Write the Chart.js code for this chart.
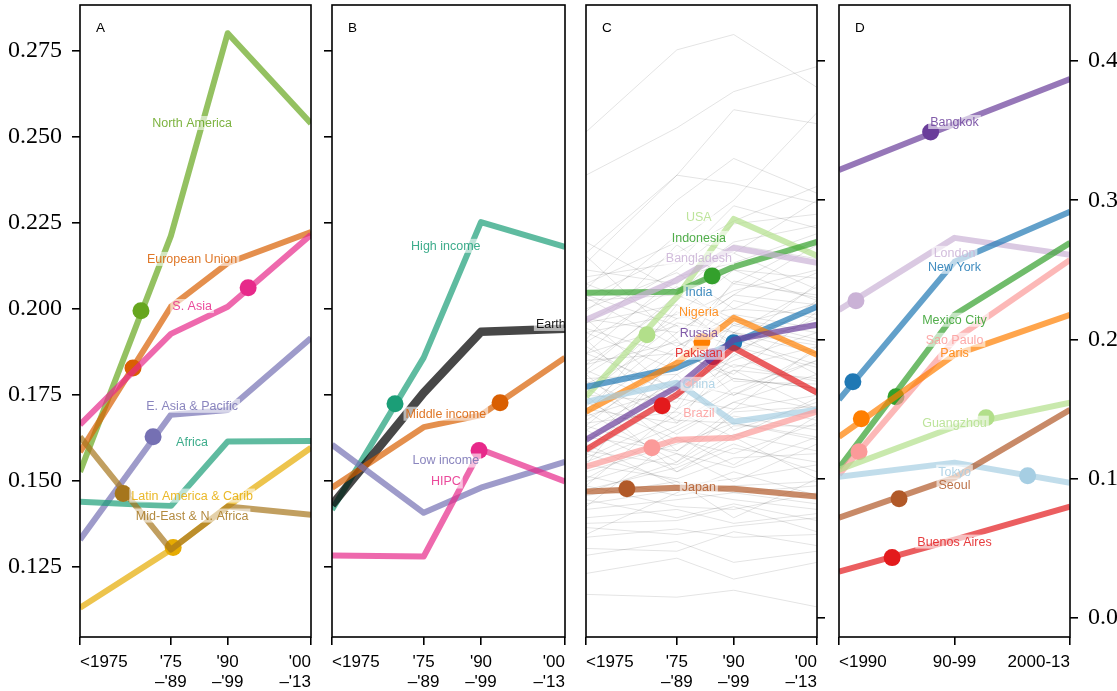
<!DOCTYPE html>
<html>
<head>
<meta charset="utf-8">
<script src="https://cdn.jsdelivr.net/npm/chart.js@4.4.1/dist/chart.umd.min.js"></script>
<style>
  html, body { margin: 0; padding: 0; background: #fff; }
  #wrap { position: relative; width: 1117px; height: 691px; overflow: hidden; }
  canvas { position: absolute; left: 0; top: 0; }
</style>
</head>
<body>
<div id="wrap">
  <canvas id="panelA" width="1117" height="691"></canvas>
  <canvas id="panelB" width="1117" height="691"></canvas>
  <canvas id="panelC" width="1117" height="691"></canvas>
  <canvas id="panelD" width="1117" height="691"></canvas>
</div>
<script>
// ---------- axes ----------
const periodLabels = ['<1975', ["'75", "\u2013'89"], ["'90", "\u2013'99"], ["'00", "\u2013'13"]];
const periodYears = [1951, 1975, 1990, 2012];
const cityPeriodLabels = ['<1990', '90-99', '2000-13'];
const cityPeriodYears = [1980, 1995, 2010];
const shareTicks = [0.125, 0.150, 0.175, 0.200, 0.225, 0.250, 0.275];
const cityTicks = [0.0, 0.1, 0.2, 0.3, 0.4];

// ---------- A: world regions ----------
const regionNames = ['North America', 'European Union', 'S. Asia', 'E. Asia & Pacific', 'Africa',
  'Latin America & Carib', 'Mid-East & N. Africa'];
const regionValues = [
  [0.1525, 0.2211, 0.2800, 0.2538],
  [0.1583, 0.2005, 0.2132, 0.2222],
  [0.1662, 0.1926, 0.2005, 0.2214],
  [0.1328, 0.1691, 0.1705, 0.1914],
  [0.1438, 0.1426, 0.1613, 0.1615],
  [0.1130, 0.1299, 0.1425, 0.1595],
  [0.1627, 0.1299, 0.1424, 0.1400]
];
const regionMarkYears = [1967.1, 1965.0, 1995.4, 1970.3, null, 1975.6, 1962.4];
const regionMarkValues = [0.1993, 0.1827, 0.2060, 0.1627, null, 0.1305, 0.1462];

// ---------- B: income groups ----------
const incomeNames = ['High income', 'Earth', 'Middle income', 'Low income', 'HIPC'];
const incomeValues = [
  [0.1415, 0.1857, 0.2251, 0.2179],
  [0.1429, 0.1755, 0.1932, 0.1941],
  [0.1479, 0.1655, 0.1690, 0.1857],
  [0.1604, 0.1406, 0.1479, 0.1554],
  [0.1282, 0.1279, 0.1590, 0.1497]
];
const incomeMarkYears = [1967.5, null, 1995.0, null, 1989.5];
const incomeMarkValues = [0.1723, null, 0.1726, null, 0.1587];

// ---------- C: countries ----------
const countryNames = ['USA', 'Indonesia', 'Bangladesh', 'India', 'Nigeria', 'Russia', 'Pakistan',
  'China', 'Brazil', 'Japan'];
const countryValues = [
  [0.1589, 0.2307, 0.2866, 0.2601],
  [0.2335, 0.2343, 0.2522, 0.2701],
  [0.2142, 0.2428, 0.2658, 0.2551],
  [0.1661, 0.1797, 0.1977, 0.2235],
  [0.1482, 0.1833, 0.2156, 0.1891],
  [0.1281, 0.1661, 0.1998, 0.2106],
  [0.1209, 0.1604, 0.1941, 0.1618],
  [0.1553, 0.1690, 0.1410, 0.1496],
  [0.1087, 0.1281, 0.1295, 0.1482],
  [0.0908, 0.0936, 0.0929, 0.0872]
];
const countryMarkYears = [1967.1, 1984.3, null, 1990.0, 1981.6, 1984.5, 1971.1, null, 1968.4, 1961.8];
const countryMarkValues = [0.2034, 0.2457, null, 0.1977, 0.1984, 0.1876, 0.1525, null, 0.1223, 0.0929];

// every other country, drawn faintly behind
const otherCountries = [
  [0.349, 0.408, 0.419, 0.381], [0.318, 0.352, 0.378, 0.396], [0.255, 0.318, 0.365, 0.355],
  [0.262, 0.318, 0.312, 0.298], [0.236, 0.300, 0.330, 0.305], [0.240, 0.270, 0.300, 0.363],
  [0.230, 0.262, 0.285, 0.310], [0.245, 0.255, 0.296, 0.280], [0.220, 0.275, 0.262, 0.300],
  [0.212, 0.250, 0.283, 0.290], [0.250, 0.240, 0.270, 0.282], [0.200, 0.268, 0.240, 0.272],
  [0.228, 0.232, 0.268, 0.258], [0.190, 0.245, 0.255, 0.276], [0.205, 0.218, 0.250, 0.244],
  [0.240, 0.215, 0.235, 0.250], [0.182, 0.228, 0.262, 0.236], [0.215, 0.205, 0.232, 0.268],
  [0.175, 0.215, 0.222, 0.248], [0.198, 0.238, 0.210, 0.226], [0.168, 0.200, 0.240, 0.232],
  [0.230, 0.195, 0.218, 0.208], [0.160, 0.212, 0.205, 0.238], [0.185, 0.190, 0.228, 0.215],
  [0.205, 0.178, 0.198, 0.222], [0.150, 0.195, 0.215, 0.200], [0.172, 0.175, 0.200, 0.182],
  [0.190, 0.165, 0.185, 0.205], [0.142, 0.182, 0.192, 0.215], [0.160, 0.155, 0.205, 0.175],
  [0.135, 0.170, 0.160, 0.192], [0.178, 0.150, 0.172, 0.165], [0.128, 0.160, 0.182, 0.170],
  [0.150, 0.140, 0.165, 0.185], [0.118, 0.158, 0.150, 0.160], [0.165, 0.132, 0.155, 0.142],
  [0.140, 0.148, 0.130, 0.158], [0.112, 0.138, 0.162, 0.150], [0.130, 0.120, 0.145, 0.135],
  [0.155, 0.128, 0.118, 0.140], [0.105, 0.125, 0.140, 0.128], [0.120, 0.110, 0.132, 0.120],
  [0.098, 0.118, 0.108, 0.130], [0.135, 0.105, 0.122, 0.112], [0.110, 0.100, 0.115, 0.118],
  [0.092, 0.108, 0.125, 0.105], [0.125, 0.095, 0.100, 0.110], [0.088, 0.098, 0.072, 0.100],
  [0.102, 0.088, 0.095, 0.098], [0.082, 0.092, 0.085, 0.078], [0.095, 0.080, 0.078, 0.090],
  [0.078, 0.085, 0.090, 0.082], [0.085, 0.072, 0.082, 0.070], [0.072, 0.078, 0.068, 0.075],
  [0.068, 0.070, 0.080, 0.062], [0.065, 0.060, 0.066, 0.072], [0.058, 0.064, 0.058, 0.060],
  [0.050, 0.048, 0.062, 0.052], [0.032, 0.043, 0.028, 0.040], [0.017, 0.015, 0.020, 0.008],
  [0.045, 0.055, 0.040, 0.048], [0.110, 0.190, 0.175, 0.220], [0.200, 0.140, 0.190, 0.160],
  [0.145, 0.225, 0.195, 0.180], [0.260, 0.200, 0.160, 0.185], [0.095, 0.150, 0.205, 0.190],
  [0.175, 0.120, 0.150, 0.195], [0.120, 0.175, 0.135, 0.155], [0.215, 0.160, 0.178, 0.150],
  [0.080, 0.130, 0.110, 0.145], [0.160, 0.105, 0.130, 0.100], [0.270, 0.235, 0.250, 0.228],
  [0.190, 0.210, 0.170, 0.168], [0.138, 0.118, 0.098, 0.125], [0.060, 0.090, 0.105, 0.088],
  [0.178, 0.232, 0.215, 0.205], [0.152, 0.205, 0.232, 0.225], [0.208, 0.188, 0.242, 0.230],
  [0.125, 0.185, 0.210, 0.198], [0.232, 0.210, 0.195, 0.240], [0.162, 0.220, 0.198, 0.212],
  [0.195, 0.158, 0.212, 0.190], [0.145, 0.165, 0.188, 0.228], [0.222, 0.248, 0.222, 0.218],
  [0.115, 0.145, 0.178, 0.172], [0.182, 0.198, 0.180, 0.195], [0.138, 0.192, 0.172, 0.165],
  [0.100, 0.135, 0.155, 0.175], [0.170, 0.142, 0.140, 0.130], [0.212, 0.225, 0.205, 0.196],
  [0.148, 0.112, 0.148, 0.152], [0.090, 0.112, 0.138, 0.138], [0.118, 0.098, 0.090, 0.095]
];

// ---------- D: cities ----------
const cityNames = ['Bangkok', 'London', 'New York', 'Mexico City', 'Sao Paulo', 'Paris', 'Guangzhou',
  'Tokyo', 'Seoul', 'Buenos Aires'];
const cityValues = [
  [0.3218, 0.3548, 0.3871],
  [0.2213, 0.2730, 0.2608],
  [0.1568, 0.2558, 0.2917],
  [0.1077, 0.2178, 0.2694],
  [0.1030, 0.1998, 0.2572],
  [0.1302, 0.1890, 0.2178],
  [0.1065, 0.1374, 0.1546],
  [0.1015, 0.1116, 0.0972],
  [0.0721, 0.1008, 0.1496],
  [0.0334, 0.0563, 0.0800]
];
const cityMarkYears = [1991.9, 1982.2, 1981.8, 1987.4, 1982.6, 1982.9, 1999.1, 2004.5, 1987.8, 1986.9];
const cityMarkValues = [0.3490, 0.2278, 0.1697, 0.1589, 0.1195, 0.1431, 0.1439, 0.1022, 0.0857, 0.0434];

// ---------- styling ----------
const dark2 = { teal: [27,158,119], orange: [217,95,2], purple: [117,112,179], pink: [231,41,138],
  green: [102,166,30], yellow: [230,171,2], brown: [166,118,29], black: [0,0,0] };
const paired = { lblue: [166,206,227], blue: [31,120,180], lgreen: [178,223,138], green: [51,160,44],
  lpink: [251,154,153], red: [227,26,28], lorange: [253,191,111], orange: [255,127,0],
  lpurple: [202,178,214], purple: [106,61,154], brown: [177,89,40] };
const rgba = (c, a) => `rgba(${c[0]},${c[1]},${c[2]},${a})`;

const regionColors = [dark2.green, dark2.orange, dark2.pink, dark2.purple, dark2.teal, dark2.yellow, dark2.brown];
const incomeColors = [dark2.teal, dark2.black, dark2.orange, dark2.purple, dark2.pink];
const countryColors = [paired.lgreen, paired.green, paired.lpurple, paired.blue, paired.orange, paired.purple,
  paired.red, paired.lblue, paired.lpink, paired.brown];
const cityColors = [paired.purple, paired.lpurple, paired.blue, paired.green, paired.lpink, paired.orange,
  paired.lgreen, paired.lblue, paired.brown, paired.red];

// where each name sits (data coordinates of its centre)
const regionLabelAt = [[1980.6, 0.2539], [1980.6, 0.2144], [1980.6, 0.2007], [1980.6, 0.1717],
  [1980.6, 0.1612], [1980.6, 0.1456], [1980.6, 0.1398]];
const incomeLabelAt = [[1980.8, 0.2182], [2012.2, 0.1955, 'right'], [1980.8, 0.1694], [1980.8, 0.1558], [1980.8, 0.1497]];
const countryLabelAt = [[1980.8, 0.2881], [1980.8, 0.2730], [1980.8, 0.2586], [1980.8, 0.2343], [1980.8, 0.2199],
  [1980.8, 0.2048], [1980.8, 0.1905], [1980.8, 0.1682], [1980.8, 0.1474], [1980.8, 0.0944]];
const cityLabelAt = [[1995, 0.3562], [1995, 0.2622], [1995, 0.2522], [1995, 0.2142], [1995, 0.1998],
  [1995, 0.1905], [1995, 0.1403], [1995, 0.1051], [1995, 0.0958], [1995, 0.0549]];

const W = 1117, H = 691;
const SPINE = '#000';
const TICK_FONT = { family: 'Liberation Sans', size: 17 };
const NUM_FONT = { family: 'Liberation Serif', size: 24 };
const LABEL_FONT = '12.5px "Liberation Sans"';

function zeroPad(s) { s.paddingLeft = 0; s.paddingRight = 0; s.paddingTop = 0; s.paddingBottom = 0; }

function buildSeries(names, values, years, markYears, markValues, colors, width, special) {
  const ds = [];
  const n = names.length;
  names.forEach((name, i) => {
    const w = (special && special[i]) || width;
    const lineAlpha = colors[i] === dark2.black ? 0.72 : 0.7;
    ds.push({
      label: name,
      data: values[i].map((v, k) => ({ x: years[k], y: v })),
      borderColor: rgba(colors[i], lineAlpha),
      borderWidth: w,
      borderJoinStyle: 'round',
      borderCapStyle: 'butt',
      pointRadius: 0,
      tension: 0,
      fill: false,
      clip: 0,
      order: 2 * (n - i) + 1
    });
    if (markYears[i] !== null) {
      ds.push({
        label: name + ' mark',
        data: [{ x: markYears[i], y: markValues[i] }],
        showLine: false,
        pointRadius: 8.5,
        pointHoverRadius: 8.5,
        pointBackgroundColor: rgba(colors[i], 1),
        pointBorderWidth: 0,
        clip: 0,
        order: 2 * (n - i)
      });
    }
  });
  return ds;
}

function labelPlugin(names, colors, at, letter) {
  return {
    id: 'inlineLabels',
    afterDatasetsDraw(chart) {
      const { ctx, scales: { x, y } } = chart;
      ctx.save();
      ctx.font = LABEL_FONT;
      ctx.textBaseline = 'middle';
      ctx.textAlign = 'left';
      names.forEach((name, i) => {
        const [lx, ly, align] = at[i];
        const px = x.getPixelForValue(lx), py = y.getPixelForValue(ly);
        const w = ctx.measureText(name).width;
        const left = align === 'right' ? px - w : px - w / 2;
        ctx.fillStyle = 'rgba(255,255,255,0.6)';
        ctx.fillRect(left - 2, py - 7, w + 4, 14);
        ctx.fillStyle = colors[i] === dark2.black ? 'rgba(0,0,0,0.9)' : rgba(colors[i], 0.85);
        ctx.fillText(name, left, py + 0.5);
      });
      ctx.restore();
    },
    afterDraw(chart) {
      const { ctx, chartArea: a } = chart;
      ctx.save();
      ctx.strokeStyle = SPINE;
      ctx.lineWidth = 1.6;
      ctx.strokeRect(a.left, a.top, a.right - a.left, a.bottom - a.top);
      ctx.fillStyle = '#000';
      ctx.font = '13.5px "Liberation Sans"';
      ctx.textBaseline = 'alphabetic';
      ctx.fillText(letter, a.left + 16, a.top + 27);
      ctx.restore();
    }
  };
}

function makePanel(id, cfg) {
  const grid = { display: true, drawOnChartArea: false, drawTicks: true, tickLength: 8, color: SPINE, lineWidth: 1.6 };
  const yOpts = {
    type: 'linear',
    min: cfg.yMin, max: cfg.yMax,
    position: cfg.yPos,
    grid,
    border: { display: false },
    ticks: {
      display: cfg.yLabels,
      color: '#000',
      font: NUM_FONT,
      padding: 10,
      callback: v => v.toFixed(cfg.yDigits)
    },
    afterBuildTicks: s => { s.ticks = cfg.yTicks.map(v => ({ value: v })); },
    afterFit: s => { s.width = cfg.yWidth; zeroPad(s); }
  };
  const xOpts = {
    type: 'linear',
    min: cfg.xYears[0], max: cfg.xYears[cfg.xYears.length - 1],
    grid,
    border: { display: false },
    ticks: {
      color: '#000',
      font: TICK_FONT,
      padding: 7,
      align: 'inner',
      autoSkip: false,
      maxRotation: 0,
      callback: (v, i) => cfg.xLabels[i]
    },
    afterBuildTicks: s => { s.ticks = cfg.xYears.map(v => ({ value: v })); },
    afterFit: s => { s.height = 54; zeroPad(s); }
  };
  return new Chart(document.getElementById(id), {
    type: 'line',
    data: { datasets: cfg.datasets },
    options: {
      responsive: false,
      animation: false,
      devicePixelRatio: 1,
      events: [],
      layout: { padding: cfg.padding, autoPadding: false },
      plugins: { legend: { display: false }, tooltip: { enabled: false } },
      scales: { x: xOpts, y: yOpts }
    },
    plugins: [cfg.plugin]
  });
}

const shareRange = { yMin: 0.1045, yMax: 0.2882 };
const cityRange = { yMin: -0.0136, yMax: 0.4402 };
const TOP = 5;

// A
makePanel('panelA', {
  ...shareRange, yTicks: shareTicks, yDigits: 3, yPos: 'left', yLabels: true, yWidth: 80,
  xYears: periodYears, xLabels: periodLabels,
  padding: { left: 0, right: W - 311, top: TOP, bottom: 0 },
  datasets: buildSeries(regionNames, regionValues, periodYears, regionMarkYears, regionMarkValues, regionColors, 6),
  plugin: labelPlugin(regionNames, regionColors, regionLabelAt, 'A')
});

// B
makePanel('panelB', {
  ...shareRange, yTicks: shareTicks, yDigits: 3, yPos: 'left', yLabels: false, yWidth: 8,
  xYears: periodYears, xLabels: periodLabels,
  padding: { left: 324, right: W - 565, top: TOP, bottom: 0 },
  datasets: buildSeries(incomeNames, incomeValues, periodYears, incomeMarkYears, incomeMarkValues, incomeColors, 6, [null, 8.5]),
  plugin: labelPlugin(incomeNames, incomeColors, incomeLabelAt, 'B')
});

// C
const backdrop = otherCountries.map((vals, i) => ({
  label: 'country ' + i,
  data: vals.map((v, k) => ({ x: periodYears[k], y: v })),
  borderColor: 'rgba(0,0,0,0.11)',
  borderWidth: 1,
  pointRadius: 0,
  tension: 0,
  fill: false,
  clip: 0,
  order: 100
}));
makePanel('panelC', {
  ...cityRange, yTicks: cityTicks, yDigits: 1, yPos: 'right', yLabels: false, yWidth: 8,
  xYears: periodYears, xLabels: periodLabels,
  padding: { left: 586, right: W - 817 - 8, top: TOP, bottom: 0 },
  datasets: backdrop.concat(buildSeries(countryNames, countryValues, periodYears, countryMarkYears, countryMarkValues, countryColors, 6)),
  plugin: labelPlugin(countryNames, countryColors, countryLabelAt, 'C')
});

// D
makePanel('panelD', {
  ...cityRange, yTicks: cityTicks, yDigits: 1, yPos: 'right', yLabels: true, yWidth: W - 1070,
  xYears: cityPeriodYears, xLabels: cityPeriodLabels,
  padding: { left: 839, right: 0, top: TOP, bottom: 0 },
  datasets: buildSeries(cityNames, cityValues, cityPeriodYears, cityMarkYears, cityMarkValues, cityColors, 6),
  plugin: labelPlugin(cityNames, cityColors, cityLabelAt, 'D')
});
</script>
</body>
</html>
